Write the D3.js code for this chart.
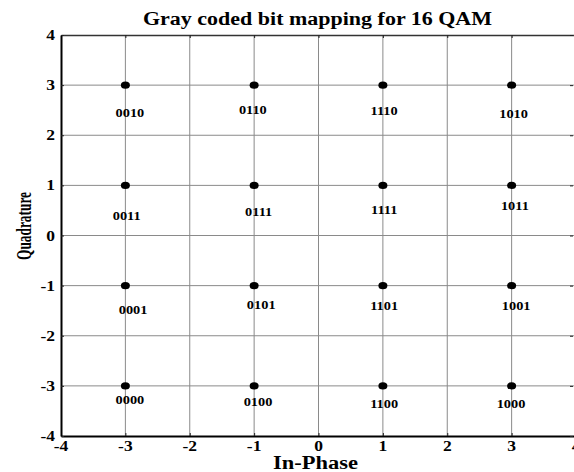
<!DOCTYPE html>
<html>
<head>
<meta charset="utf-8">
<script src="https://cdn.jsdelivr.net/npm/d3@7"></script>
<style>
  html, body { margin: 0; padding: 0; background: #fff; }
  svg { display: block; }
  text { font-family: "Liberation Serif", "Times New Roman", serif; font-weight: bold; fill: #000; }
</style>
</head>
<body>
<script>
// ---- data ----
const inPhase    = [-3, -1, 1, 3, -3, -1, 1, 3, -3, -1, 1, 3, -3, -1, 1, 3];
const quadrature = [ 3,  3, 3, 3,  1,  1, 1, 1, -1, -1, -1, -1, -3, -3, -3, -3];
const bitLabels  = ["0010","0110","1110","1010",
                    "0011","0111","1111","1011",
                    "0001","0101","1101","1001",
                    "0000","0100","1100","1000"];
// label anchor positions (data units)
const labelI = [-2.93, -1.02, 1.02, 3.03,
                -2.98, -0.93, 1.02, 3.05,
                -2.88, -0.89, 1.02, 3.07,
                -2.93, -0.94, 1.02, 2.99];
const labelQ = [ 2.44,  2.50, 2.48, 2.42,
                 0.39,  0.47, 0.51, 0.59,
                -1.49, -1.39, -1.41, -1.41,
                -3.28, -3.32, -3.36, -3.36];
const xTicks = [-4, -3, -2, -1, 0, 1, 2, 3, 4];
const yTicks = [-4, -3, -2, -1, 0, 1, 2, 3, 4];
const titleText = "Gray coded bit mapping for 16 QAM";
const xLabelText = "In-Phase";
const yLabelText = "Quadrature";

(function () {
// ---- layout ----
const W = 574, H = 472;
const pL = 61, pT = 35, pR = 576, pB = 436;
const SX = 1.25; // horizontal text stretch

const svg = d3.select("body").append("svg").attr("width", W).attr("height", H);

const x = d3.scaleLinear().domain([-4, 4]).range([pL, pR]);
const y = d3.scaleLinear().domain([-4, 4]).range([pB, pT]);

// grid
const grid = svg.append("g");
grid.selectAll("line.gx").data(xTicks.slice(1, -1)).join("line")
  .attr("x1", d => x(d)).attr("x2", d => x(d))
  .attr("y1", pT).attr("y2", pB)
  .attr("stroke", "#8a8a8a").attr("stroke-width", 1);
grid.selectAll("line.gy").data(yTicks.slice(1, -1)).join("line")
  .attr("x1", pL).attr("x2", pR)
  .attr("y1", d => y(d)).attr("y2", d => y(d))
  .attr("stroke", "#8a8a8a").attr("stroke-width", 1);

// axes with inward ticks
const tl = 3;
const axB = svg.append("g").attr("transform", `translate(0,${pB})`)
  .call(d3.axisBottom(x).tickValues(xTicks).tickSizeInner(-tl).tickSizeOuter(0).tickFormat(""));
const axT = svg.append("g").attr("transform", `translate(0,${pT})`)
  .call(d3.axisTop(x).tickValues(xTicks).tickSizeInner(-tl).tickSizeOuter(0).tickFormat(""));
const axL = svg.append("g").attr("transform", `translate(${pL},0)`)
  .call(d3.axisLeft(y).tickValues(yTicks).tickSizeInner(-tl).tickSizeOuter(0).tickFormat(""));
const axR = svg.append("g").attr("transform", `translate(${pR - 3},0)`)
  .call(d3.axisRight(y).tickValues(yTicks).tickSizeInner(-tl).tickSizeOuter(0).tickFormat(""));
[axB, axT, axL, axR].forEach(a => {
  a.selectAll(".tick line").attr("stroke", "#222").attr("stroke-width", 1);
  a.select(".domain").attr("stroke", "#000");
});
axB.select(".domain").attr("stroke-width", 2);
axL.select(".domain").attr("stroke-width", 2);
axT.select(".domain").attr("stroke-width", 1.5).attr("stroke", "#333");
axR.select(".domain").remove();

// tick labels
svg.append("g").selectAll("text").data(xTicks).join("text")
  .attr("transform", d => `translate(${x(d)},${pB + 14.5}) scale(${SX},1)`)
  .attr("text-anchor", "middle").attr("font-size", 14).text(d => d);
svg.append("g").selectAll("text").data(yTicks).join("text")
  .attr("transform", d => `translate(${pL - 6},${y(d) + 5}) scale(${SX},1)`)
  .attr("text-anchor", "end").attr("font-size", 14).text(d => d);

// points
svg.append("g").selectAll("ellipse").data(inPhase).join("ellipse")
  .attr("cx", (d, i) => x(d)).attr("cy", (d, i) => y(quadrature[i]))
  .attr("rx", 4.5).attr("ry", 3.6).attr("fill", "#000");

// point labels
svg.append("g").selectAll("text").data(bitLabels).join("text")
  .attr("transform", (d, i) => `translate(${x(labelI[i])},${y(labelQ[i]) + 4}) scale(${SX},1)`)
  .attr("text-anchor", "middle").attr("font-size", 11.5).text(d => d);

// title
svg.append("text").attr("x", 317.5).attr("y", 25)
  .attr("text-anchor", "middle").attr("font-size", 18)
  .attr("textLength", 349).attr("lengthAdjust", "spacingAndGlyphs")
  .text(titleText);

// x label
svg.append("text").attr("x", 315.5).attr("y", 469)
  .attr("text-anchor", "middle").attr("font-size", 18)
  .attr("textLength", 85).attr("lengthAdjust", "spacingAndGlyphs")
  .text(xLabelText);

// y label
svg.append("text")
  .attr("transform", `translate(31,226) scale(${SX},1) rotate(-90)`)
  .attr("text-anchor", "middle").attr("font-size", 17)
  .attr("textLength", 68).attr("lengthAdjust", "spacingAndGlyphs")
  .text(yLabelText);
})();
</script>
</body>
</html>
